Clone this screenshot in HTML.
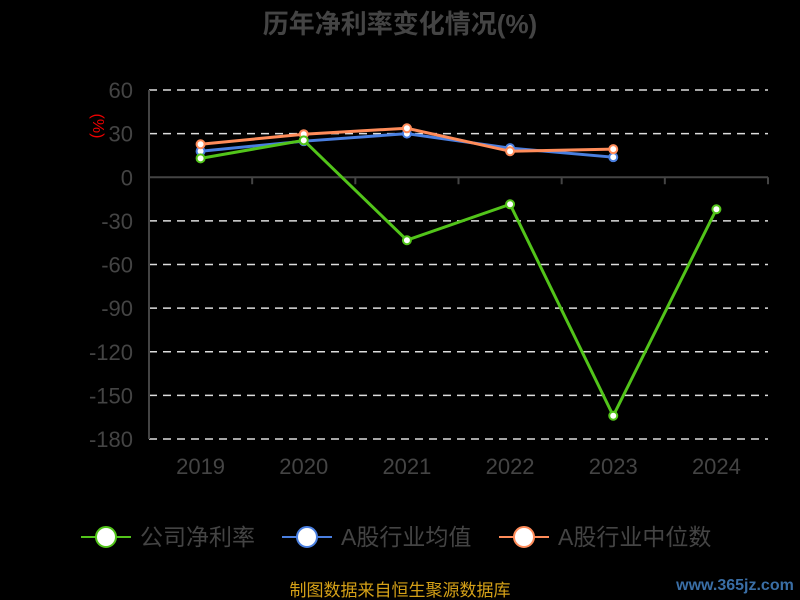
<!DOCTYPE html>
<html><head><meta charset="utf-8"><style>
body{margin:0;background:#000;}
svg{display:block;font-family:"Liberation Sans","Noto Sans CJK SC",sans-serif;}
</style></head><body>
<svg id="c" width="800" height="600">
<text x="400" y="33" text-anchor="middle" font-size="26" font-weight="bold" fill="#444">历年净利率变化情况(%)</text>
<text x="93" y="126" transform="rotate(90 93 126)" text-anchor="middle" font-size="16" fill="#e00">(%)</text>
<g id="grid"></g><g id="series"></g>
<g>
<g><line x1="81" y1="537" x2="131" y2="537" stroke="#52c41a" stroke-width="2"/><circle cx="106" cy="537" r="10" fill="#fff" stroke="#52c41a" stroke-width="2"/><text x="140" y="545" font-size="23" fill="#444">公司净利率</text></g>
<g><line x1="282" y1="537" x2="332" y2="537" stroke="#4a7fe0" stroke-width="2"/><circle cx="307" cy="537" r="10" fill="#fff" stroke="#4a7fe0" stroke-width="2"/><text x="341" y="545" font-size="23" fill="#444">A股行业均值</text></g>
<g><line x1="499" y1="537" x2="549" y2="537" stroke="#ff8c5a" stroke-width="2"/><circle cx="524" cy="537" r="10" fill="#fff" stroke="#ff8c5a" stroke-width="2"/><text x="558" y="545" font-size="23" fill="#444">A股行业中位数</text></g>
</g>
<text x="400" y="596" text-anchor="middle" font-size="17" fill="#d4a017">制图数据来自恒生聚源数据库</text>
<text x="735" y="590" text-anchor="middle" font-size="16" font-weight="bold" fill="#3a6ea5">www.365jz.com</text>
</svg>
<script>
const categories=["2019","2020","2021","2022","2023","2024"];
const yTicks=[60,30,0,-30,-60,-90,-120,-150,-180];
const company=[13,25.4,-43.3,-18.6,-164,-22];
const industryAvg=[17.9,24.8,30,20,13.8,null];
const industryMedian=[22.7,29.6,33.7,17.9,19.3,null];
const NS="http://www.w3.org/2000/svg";
const x0=149,x1=768,yTop=90,yBot=439,vMax=60,vMin=-180;
const xs=i=>x0+(x1-x0)/categories.length*(i+0.5);
const ys=v=>yTop+(vMax-v)/(vMax-vMin)*(yBot-yTop);
function mk(t,a,p){const e=document.createElementNS(NS,t);for(const k in a)e.setAttribute(k,a[k]);p.appendChild(e);return e;}
const g=document.getElementById('grid');
yTicks.forEach(v=>{
 if(v!==0){const l=mk('line',{x1:x0,x2:x1,y1:ys(v),y2:ys(v),stroke:'#ddd','stroke-dasharray':'8,6','stroke-width':1.5},g);
 
 }
 const t=mk('text',{x:x0-16,y:ys(v)+8,'text-anchor':'end','font-size':22,fill:'#444'},g);t.textContent=v;
 
 
});
const ax=mk('line',{x1:x0,x2:x1,y1:ys(0),y2:ys(0),stroke:'#444','stroke-width':2},g);


const ay=mk('line',{x1:x0,x2:x0,y1:yTop,y2:yBot,stroke:'#444','stroke-width':2},g);


categories.forEach((c,i)=>{
 const tx=x0+(x1-x0)/categories.length*(i+1);
 mk('line',{x1:tx,x2:tx,y1:ys(0),y2:ys(0)+7,stroke:'#444','stroke-width':2},g);
 const t=mk('text',{x:xs(i),y:474,'text-anchor':'middle','font-size':22,fill:'#444'},g);t.textContent=c;
 
 
});
const s=document.getElementById('series');
[[industryAvg,'#4a7fe0','industry-avg'],[industryMedian,'#ff8c5a','industry-median'],[company,'#52c41a','company']].forEach(([d,col,n])=>{
 const pts=d.map((v,i)=>v==null?null:xs(i)+','+ys(v)).filter(p=>p);
 const pl=mk('polyline',{points:pts.join(' '),fill:'none',stroke:col,'stroke-width':3},s);
 
 
 d.forEach((v,i)=>{if(v==null)return;
  const c=mk('circle',{cx:xs(i),cy:ys(v),r:4,fill:'#fff',stroke:col,'stroke-width':2},s);
  
  });
});
</script>
</body></html>
